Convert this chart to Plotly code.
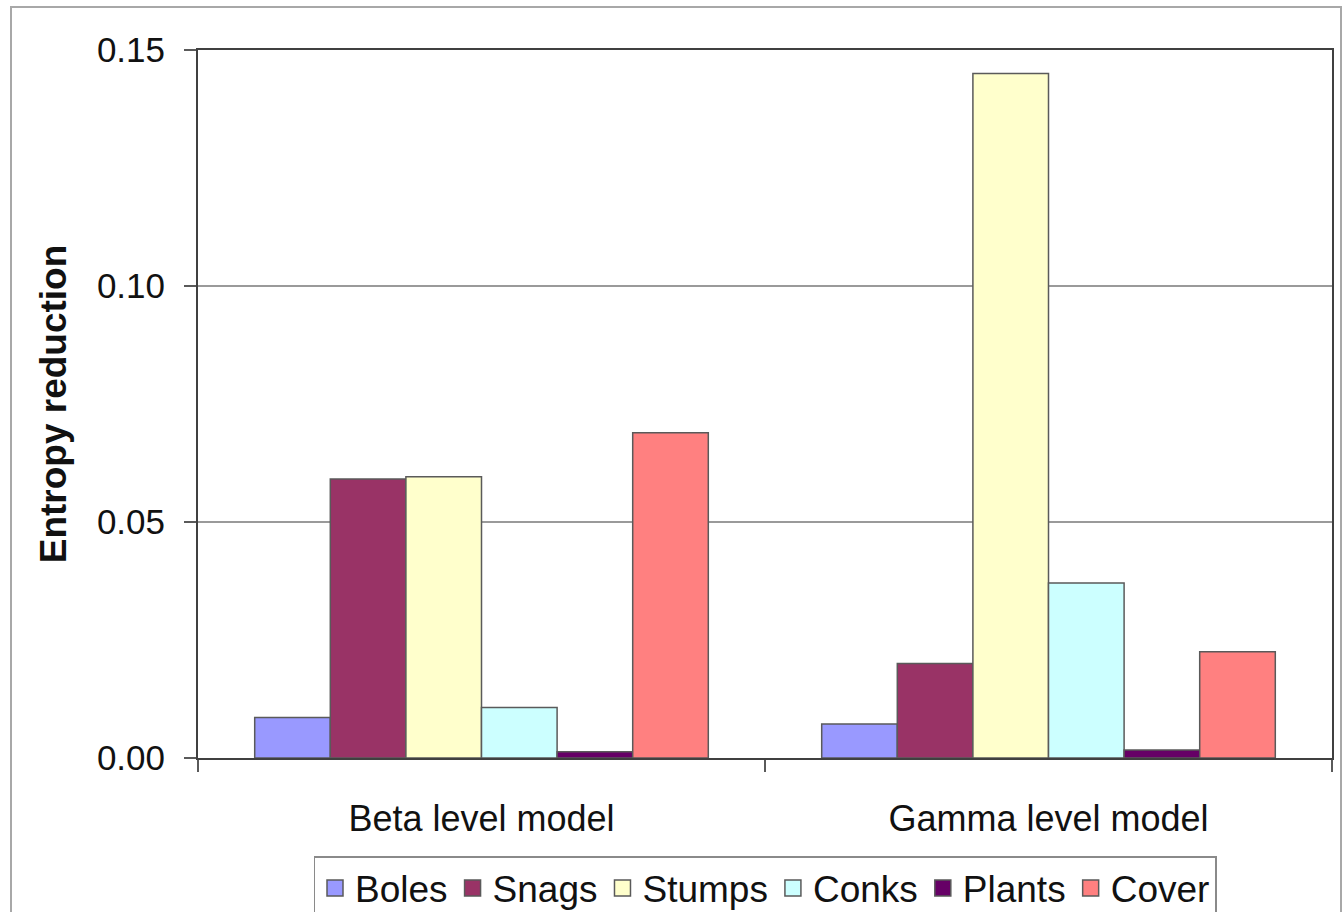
import plotly.graph_objects as go

# Models on the x axis and the variables compared within each model
models = ["Beta level model", "Gamma level model"]
variables = ["Boles", "Snags", "Stumps", "Conks", "Plants", "Cover"]

# Entropy reduction per variable, one list per model
beta_values = [0.0086, 0.0591, 0.0596, 0.0107, 0.0013, 0.0689]
gamma_values = [0.0072, 0.0200, 0.1450, 0.0371, 0.0017, 0.0225]

# Classic spreadsheet palette for the six series
colors = ["#9999FF", "#993366", "#FFFFCC", "#CCFFFF", "#660066", "#FF8080"]

FONT = "Liberation Sans, Arial, Helvetica, sans-serif"
EDGE = "#5a5a5a"

fig = go.Figure()

for i, name in enumerate(variables):
    fig.add_trace(go.Bar(
        x=models,
        y=[beta_values[i], gamma_values[i]],
        name=name,
        legendgroup=name,
        showlegend=False,
        marker=dict(color=colors[i], line=dict(color=EDGE, width=1.5)),
    ))

# Legend entries with larger square swatches
for i, name in enumerate(variables):
    fig.add_trace(go.Scatter(
        x=[None], y=[None],
        mode="markers",
        name=name,
        legendgroup=name,
        marker=dict(symbol="square", size=16, color=colors[i],
                    line=dict(color=EDGE, width=1.5)),
    ))

W, H = 1343, 912
L, R, T, B = 198, 11, 50, 154
pw, ph = W - L - R, H - T - B

def px_x(x):
    return (x - L) / pw

def px_y(y):
    return (H - B - y) / ph

fig.update_layout(
    width=W, height=H,
    autosize=False,
    margin=dict(l=L, r=R, t=T, b=B, pad=0, autoexpand=False),
    paper_bgcolor="white",
    plot_bgcolor="white",
    font=dict(family=FONT, size=35, color="#111111"),
    barmode="group",
    bargap=0.2,
    bargroupgap=0,
    showlegend=True,
    legend=dict(
        orientation="h",
        x=0.5, xanchor="center",
        y=px_y(856), yanchor="top",
        bordercolor="#8a8a8a", borderwidth=1.5,
        bgcolor="white",
        font=dict(family=FONT, size=37, color="#111111"),
        itemsizing="trace",
        traceorder="normal",
    ),
    xaxis=dict(
        type="category",
        tickson="boundaries",
        ticks="outside", ticklen=12, tickwidth=1.5, tickcolor=EDGE,
        showline=True, linecolor="#404040", linewidth=2, mirror=True,
        ticklabelstandoff=28,
        tickfont=dict(family=FONT, size=36),
        showgrid=False,
    ),
    yaxis=dict(
        range=[0, 0.15],
        dtick=0.05,
        tickformat=".2f",
        ticks="outside", ticklen=12, tickwidth=1.5, tickcolor=EDGE,
        showline=True, linecolor="#404040", linewidth=2, mirror=True,
        showgrid=True, gridcolor="#9a9a9a", gridwidth=1.5,
        zeroline=False,
        ticklabelstandoff=12,
        tickfont=dict(family=FONT, size=35),
        title=dict(text="<b>Entropy reduction</b>",
                   font=dict(family=FONT, size=37, color="#111111"),
                   standoff=19),
    ),
    shapes=[
        dict(type="rect", xref="paper", yref="paper",
             x0=px_x(11), x1=px_x(1341), y0=px_y(1000), y1=px_y(7),
             line=dict(color="#a8a8a8", width=2), fillcolor="rgba(0,0,0,0)",
             layer="below"),
    ],
)

fig.write_html("out.html")
